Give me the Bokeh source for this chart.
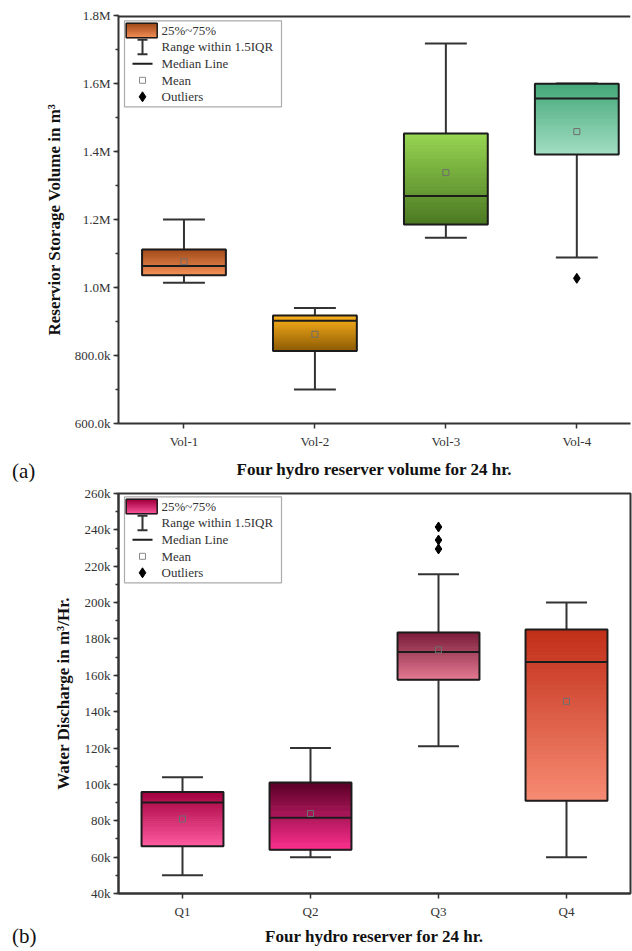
import numpy as np
from bokeh.plotting import figure
from bokeh.layouts import column
from bokeh.models import Range1d, FixedTicker, SingleIntervalTicker, Span, Div
from bokeh.core.properties import value
from bokeh.embed import file_html
from bokeh.resources import INLINE

# ---------------- data: panel (a) ----------------
vol_cats = ["Vol-1", "Vol-2", "Vol-3", "Vol-4"]
vol_lower = [1014000, 700000, 1146000, 1088000]
vol_q1 = [1036000, 813500, 1185000, 1391000]
vol_median = [1063000, 902000, 1269000, 1556000]
vol_q3 = [1112000, 918000, 1453000, 1599000]
vol_upper = [1200000, 940000, 1718000, 1600000]
vol_mean = [1076000, 862500, 1338000, 1458500]
vol_outlier_cat = [4]
vol_outlier_val = [1027000]
vol_tick_values = [600000, 800000, 1000000, 1200000, 1400000, 1600000, 1800000]
vol_tick_labels = ["600.0k", "800.0k", "1.0M", "1.2M", "1.4M", "1.6M", "1.8M"]

# ---------------- data: panel (b) ----------------
q_cats = ["Q1", "Q2", "Q3", "Q4"]
q_lower = [50000, 60000, 121000, 60000]
q_q1 = [66000, 64000, 157500, 91000]
q_median = [90000, 81700, 172800, 167300]
q_q3 = [95800, 101000, 183600, 185200]
q_upper = [104000, 120000, 215600, 200000]
q_mean = [81000, 84000, 174000, 145700]
q_outlier_cat = [3, 3, 3]
q_outlier_val = [241600, 234400, 229500]
q_tick_values = [40000, 60000, 80000, 100000, 120000, 140000, 160000, 180000,
                 200000, 220000, 240000, 260000]
q_tick_labels = ["40k", "60k", "80k", "100k", "120k", "140k", "160k", "180k",
                 "200k", "220k", "240k", "260k"]

legend_labels = ["25%~75%", "Range within 1.5IQR", "Median Line", "Mean", "Outliers"]

# ---------------- styles ----------------
vol_top_colors = ["#a24c1c", "#fbb11c", "#97d552", "#44a878"]
vol_bottom_colors = ["#f8935a", "#8c5a04", "#4a7822", "#a3dec4"]
q_top_colors = ["#a3003e", "#5a0026", "#7a1d3a", "#c12e18"]
q_bottom_colors = ["#ff5ca2", "#ff2f8f", "#e67c94", "#f78c74"]

SERIF = "Liberation Serif"
AXIS_COLOR = "#333333"
BOX_LINE = "#1c1c1c"
BOX_HALF = 0.32
CAP_HALF = 0.16
N_SLICES = 40
FRAME_W = 512


def hex2rgb(h):
    h = h.lstrip("#")
    return np.array([int(h[i:i + 2], 16) for i in (0, 2, 4)], dtype=float)


def lerp(c_bottom, c_top, t):
    a, b = hex2rgb(c_bottom), hex2rgb(c_top)
    c = a + (b - a) * t
    return "#%02x%02x%02x" % tuple(int(round(v)) for v in c)


def gradient_quads(p, left, right, bottom, top, c_bottom, c_top):
    edges = np.linspace(bottom, top, N_SLICES + 1)
    ts = (np.arange(N_SLICES) + 0.5) / N_SLICES
    cols = [lerp(c_bottom, c_top, t) for t in ts]
    p.quad(left=[left] * N_SLICES, right=[right] * N_SLICES,
           bottom=edges[:-1], top=edges[1:],
           fill_color=cols, line_color=cols, line_width=1)


def make_panel(cats, lower, q1, med, q3, upper, mean, out_x, out_y,
               top_cols, bot_cols, y0, y1, x_end, tick_vals, tick_labels,
               interval, ylabel, xlabel, frame_h,
               border_top, border_bottom, legend_top, closed_frame,
               ylabel_standoff, xlabel_standoff):
    p = figure(frame_width=FRAME_W, frame_height=frame_h,
               min_border_left=118, min_border_right=2,
               min_border_top=border_top, min_border_bottom=border_bottom,
               x_range=Range1d(0.5, x_end), y_range=Range1d(y0, y1),
               output_backend="svg", toolbar_location=None,
               background_fill_color="white", border_fill_color="white")
    p.xgrid.visible = False
    p.ygrid.visible = False

    xa = p.below[0]
    ya = p.left[0]

    if closed_frame:
        p.outline_line_color = AXIS_COLOR
        p.outline_line_width = 2
    else:
        p.outline_line_color = None
        p.add_layout(Span(location=y1, dimension="width",
                          line_color=AXIS_COLOR, line_width=4))

    xs = np.arange(1, len(cats) + 1, dtype=float)

    # whiskers
    p.segment(x0=xs, y0=q3, x1=xs, y1=upper, line_color=AXIS_COLOR, line_width=2)
    p.segment(x0=xs, y0=q1, x1=xs, y1=lower, line_color=AXIS_COLOR, line_width=2)
    p.segment(x0=xs - CAP_HALF, y0=upper, x1=xs + CAP_HALF, y1=upper,
              line_color=AXIS_COLOR, line_width=2)
    p.segment(x0=xs - CAP_HALF, y0=lower, x1=xs + CAP_HALF, y1=lower,
              line_color=AXIS_COLOR, line_width=2)

    # gradient boxes
    for i in range(len(cats)):
        gradient_quads(p, xs[i] - BOX_HALF, xs[i] + BOX_HALF, q1[i], q3[i],
                       bot_cols[i], top_cols[i])
    p.quad(left=xs - BOX_HALF, right=xs + BOX_HALF, bottom=q1, top=q3,
           fill_color=None, line_color=BOX_LINE, line_width=2)
    p.segment(x0=xs - BOX_HALF, y0=med, x1=xs + BOX_HALF, y1=med,
              line_color=BOX_LINE, line_width=2)
    p.scatter(xs, mean, marker="square", size=6, fill_color=None,
              line_color="#6e6e6e", line_width=1)
    p.scatter(out_x, out_y, marker="diamond", size=10, fill_color="black",
              line_color="black")

    # ---- legend drawn in frame-pixel offsets converted to data ----
    def dx(px):
        return 0.5 + px * (x_end - 0.5) / FRAME_W

    def dy(py):
        return y1 - py * (y1 - y0) / frame_h

    lt = legend_top
    p.quad(left=[dx(6)], right=[dx(163)], top=[dy(lt)], bottom=[dy(lt + 86)],
           fill_color="white", line_color="#ababab", line_width=1.2)
    gradient_quads(p, dx(7.7), dx(38.7), dy(lt + 17), dy(lt + 2.5),
                   bot_cols[0], top_cols[0])
    p.quad(left=[dx(7.7)], right=[dx(38.7)], top=[dy(lt + 2.5)],
           bottom=[dy(lt + 17)], fill_color=None, line_color=BOX_LINE,
           line_width=1.5)
    p.segment(x0=[dx(24)], y0=[dy(lt + 19)], x1=[dx(24)], y1=[dy(lt + 33.5)],
              line_color=AXIS_COLOR, line_width=2)
    p.segment(x0=[dx(19), dx(19)], y0=[dy(lt + 19), dy(lt + 33.5)],
              x1=[dx(29), dx(29)], y1=[dy(lt + 19), dy(lt + 33.5)],
              line_color=AXIS_COLOR, line_width=2)
    p.segment(x0=[dx(14)], y0=[dy(lt + 43)], x1=[dx(34)], y1=[dy(lt + 43)],
              line_color=BOX_LINE, line_width=2)
    p.scatter([dx(24)], [dy(lt + 59.5)], marker="square", size=6,
              fill_color="white", line_color="#8a8a8a", line_width=1)
    p.scatter([dx(24)], [dy(lt + 76)], marker="diamond", size=10,
              fill_color="black", line_color="black")
    rows = [9.5, 26, 43, 59.5, 76]
    p.text(x=[dx(43)] * len(legend_labels), y=[dy(lt + r) for r in rows],
           text=legend_labels, text_font=value(SERIF), text_font_size="13px",
           text_color="#333333", text_baseline="middle", text_align="left")

    # ---- axes ----
    xa.ticker = FixedTicker(ticks=list(xs))
    xa.major_label_overrides = {float(x): c for x, c in zip(xs, cats)}
    xa.minor_tick_line_color = None
    xa.major_label_standoff = 5
    xa.axis_label = xlabel
    xa.axis_label_standoff = xlabel_standoff

    ya.ticker = SingleIntervalTicker(interval=interval, num_minor_ticks=2)
    ya.major_label_overrides = {v: l for v, l in zip(tick_vals, tick_labels)}
    ya.major_label_standoff = 3
    ya.axis_label = ylabel
    ya.axis_label_standoff = ylabel_standoff

    for ax in (xa, ya):
        ax.axis_line_color = AXIS_COLOR
        ax.axis_line_width = 2
        ax.major_tick_line_color = AXIS_COLOR
        ax.major_tick_line_width = 1.5
        ax.major_tick_in = 0
        ax.major_tick_out = 5
        ax.minor_tick_in = 0
        ax.minor_tick_out = 3
        ax.minor_tick_line_width = 1.5
        ax.major_label_text_font = SERIF
        ax.major_label_text_font_size = "13px"
        ax.major_label_text_color = "#333333"
        ax.axis_label_text_font = SERIF
        ax.axis_label_text_font_size = "17px"
        ax.axis_label_text_font_style = "bold"
        ax.axis_label_text_color = "#111111"
    ya.minor_tick_line_color = AXIS_COLOR
    return p


def panel_tag(text, margin):
    html = ('<span style="font-family: \'Liberation Serif\', serif; '
            'font-size: 21px; line-height: 24px; color: #111111;">%s</span>' % text)
    return Div(text=html, width=40, height=24, margin=margin)


pa = make_panel(vol_cats, vol_lower, vol_q1, vol_median, vol_q3, vol_upper,
                vol_mean, vol_outlier_cat, vol_outlier_val,
                vol_top_colors, vol_bottom_colors, 600000, 1800000, 4.41,
                vol_tick_values, vol_tick_labels, 200000,
                "Reservior Storage Volume in m\u00b3",
                "Four hydro reserver volume for 24 hr.",
                408, 15, 56, 5.3, False, 8, 8)

pb = make_panel(q_cats, q_lower, q_q1, q_median, q_q3, q_upper,
                q_mean, q_outlier_cat, q_outlier_val,
                q_top_colors, q_bottom_colors, 40000, 260000, 4.5,
                q_tick_values, q_tick_labels, 20000,
                "Water Discharge in m\u00b3/Hr.",
                "Four hydro reserver for 24 hr.",
                400, 12, 55, 3.3, True, 9, 5)

tag_a = panel_tag("(a)", (-22, 0, -2, 12))
tag_b = panel_tag("(b)", (-24, 0, 0, 12))

layout = column(pa, tag_a, pb, tag_b, spacing=0)
open("out.html", "w").write(file_html(layout, INLINE))
